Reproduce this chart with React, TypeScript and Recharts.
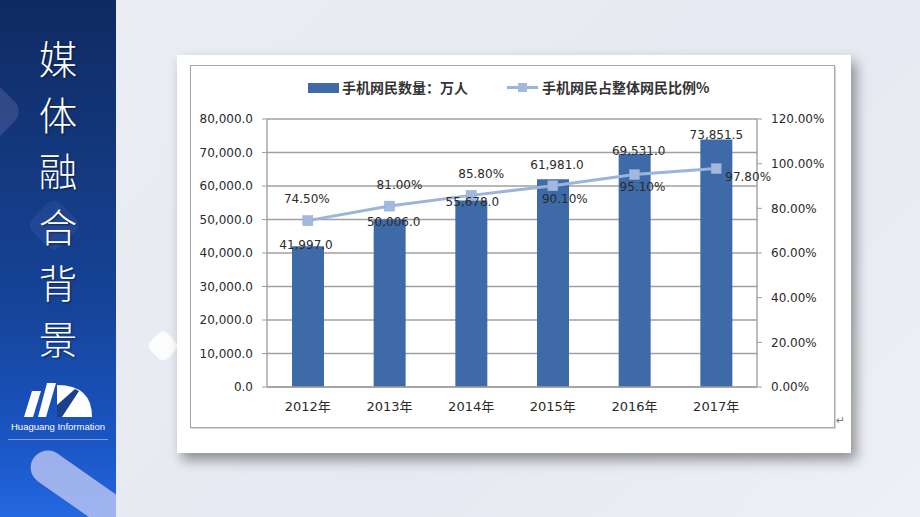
import React from 'react';
import {
  ComposedChart,
  Bar,
  Line,
  XAxis,
  YAxis,
  CartesianGrid,
  Legend,
  LabelList,
} from 'recharts';

const years = ['2012年', '2013年', '2014年', '2015年', '2016年', '2017年'];
const mobileUsers = [41997.0, 50006.0, 55678.0, 61981.0, 69531.0, 73851.5];
const mobileShare = [74.5, 81.0, 85.8, 90.1, 95.1, 97.8];
const leftTicks = [0, 10000, 20000, 30000, 40000, 50000, 60000, 70000, 80000];
const rightTicks = [0, 20, 40, 60, 80, 100, 120];
const seriesNames = ['手机网民数量：万人', '手机网民占整体网民比例%'];
const titleChars = ['媒', '体', '融', '合', '背', '景'];

const data = years.map((y, i) => ({ year: y, users: mobileUsers[i], share: mobileShare[i] }));

// label nudges (style only)
const barLabelNudge = [
  [-2, -1],
  [4, 3],
  [1, 2],
  [4, -14],
  [4, -3],
  [0, -5],
];
const lineLabelNudge = [
  [-1, -22],
  [10, -21],
  [10, -21],
  [12, 13],
  [8, 12],
  [32, 8],
];

const BAR_COLOR = '#3e6ba8';
const LINE_COLOR = '#9cb3da';
const TEXT = '#2a2a2a';
const NUM_FONT = '"DejaVu Sans", "Noto Sans CJK SC", sans-serif';
const CJK_FONT = '"Noto Sans CJK SC", "DejaVu Sans", sans-serif';

const fmtUsers = (v: number) =>
  v.toLocaleString('en-US', { minimumFractionDigits: 1, maximumFractionDigits: 1 });
const fmtPct = (v: number) => `${v.toFixed(2)}%`;

const BarLabel = (props: any) => {
  const { x, y, width, value, index } = props;
  const n = barLabelNudge[index] || [0, 0];
  return (
    <text
      x={Number(x) + Number(width) / 2 + n[0]}
      y={Number(y) + n[1]}
      textAnchor="middle"
      dominantBaseline="central"
      fontSize={12}
      fontFamily={NUM_FONT}
      fill={TEXT}
    >
      {fmtUsers(Number(value))}
    </text>
  );
};

const LineLabel = (props: any) => {
  const { x, y, value, index } = props;
  const n = lineLabelNudge[index] || [0, 0];
  return (
    <text
      x={Number(x) + n[0]}
      y={Number(y) + n[1]}
      textAnchor="middle"
      dominantBaseline="central"
      fontSize={12}
      fontFamily={NUM_FONT}
      fill={TEXT}
    >
      {fmtPct(Number(value))}
    </text>
  );
};

const SquareDot = (props: any) => {
  const { cx, cy } = props;
  if (cx == null || cy == null) return null;
  return <rect x={cx - 5} y={cy - 5} width={10} height={10} fill="#a3b8dd" stroke="#8fa8d4" strokeWidth={0.5} />;
};

const legendText: React.CSSProperties = {
  position: 'absolute',
  top: 0,
  lineHeight: '30px',
  fontSize: 14,
  fontWeight: 700,
  fontFamily: CJK_FONT,
  color: '#333',
  whiteSpace: 'nowrap',
};

const LegendContent = () => (
  <div style={{ position: 'relative', width: 644, height: 30 }}>
    <div style={{ position: 'absolute', left: 118, top: 11, width: 31, height: 10, background: BAR_COLOR }} />
    <div style={{ ...legendText, left: 152 }}>{seriesNames[0]}</div>
    <div style={{ position: 'absolute', left: 317, top: 14, width: 31, height: 3, background: LINE_COLOR }} />
    <div style={{ position: 'absolute', left: 328, top: 11, width: 9, height: 9, background: '#a3b8dd' }} />
    <div style={{ ...legendText, left: 352 }}>{seriesNames[1]}</div>
  </div>
);

const Logo = () => (
  <svg width={116} height={60} style={{ position: 'absolute', left: 0, top: 375 }}>
    <polygon points="24,42 33,42 41,16 32,16" fill="#fff" />
    <polygon points="38,42 46,42 56,8 47,8" fill="#fff" />
    <path d="M57 42 L57 10 Q92 10 92 42 Z" fill="#fff" />
    <polygon points="57,42 57,30 75,14 79,16 62,42" fill="#1b3f8a" />
  </svg>
);

export default function App() {
  return (
    <div
      style={{
        position: 'absolute',
        left: 0,
        top: 0,
        width: 920,
        height: 517,
        overflow: 'hidden',
        background: 'linear-gradient(135deg, #eceef4 0%, #e6e9f1 60%, #eef0f6 100%)',
      }}
    >
      {/* left panel */}
      <div
        style={{
          position: 'absolute',
          left: 0,
          top: 0,
          width: 116,
          height: 517,
          overflow: 'hidden',
          background: 'linear-gradient(180deg, #0f2a62 0%, #143a82 35%, #16449a 60%, #1a55c4 85%, #2467e0 100%)',
        }}
      >
        <div
          style={{
            position: 'absolute',
            left: -42,
            top: 84,
            width: 55,
            height: 55,
            borderRadius: 14,
            transform: 'rotate(45deg)',
            background: 'rgba(150,140,190,0.25)',
          }}
        />
        <div
          style={{
            position: 'absolute',
            left: 34,
            top: 205,
            width: 40,
            height: 40,
            borderRadius: 10,
            transform: 'rotate(45deg)',
            background: 'rgba(120,150,220,0.12)',
          }}
        />
        <div
          style={{
            position: 'absolute',
            left: 22,
            top: 478,
            width: 130,
            height: 34,
            borderRadius: 17,
            transform: 'rotate(35deg)',
            background: 'rgba(200,205,245,0.75)',
          }}
        />
        <div
          style={{
            position: 'absolute',
            left: 0,
            width: 116,
            top: 29,
            lineHeight: '56px',
            textAlign: 'center',
            color: '#fff',
            fontSize: 38.5,
            fontWeight: 300,
            fontFamily: CJK_FONT,
            textShadow: '1px 1px 2px rgba(0,0,0,0.5)',
          }}
        >
          {titleChars.map((c, i) => (
            <React.Fragment key={c}>
              {c}
              {i < titleChars.length - 1 ? <br /> : null}
            </React.Fragment>
          ))}
        </div>
        <Logo />
        <div
          style={{
            position: 'absolute',
            left: 0,
            width: 116,
            top: 421,
            textAlign: 'center',
            color: '#fff',
            fontSize: 9.5,
            fontFamily: '"Liberation Sans", Arial, sans-serif',
            whiteSpace: 'nowrap',
          }}
        >
          Huaguang Information
        </div>
        <div style={{ position: 'absolute', left: 8, top: 439, width: 100, height: 1, background: 'rgba(255,255,255,0.45)' }} />
      </div>

      {/* background diamond */}
      <div
        style={{
          position: 'absolute',
          left: 151,
          top: 334,
          width: 24,
          height: 24,
          borderRadius: 6,
          transform: 'rotate(45deg)',
          background: 'rgba(255,255,255,0.9)',
        }}
      />

      {/* card */}
      <div
        style={{
          position: 'absolute',
          left: 177,
          top: 55,
          width: 674,
          height: 398,
          background: '#fff',
          boxShadow: '5px 7px 12px rgba(0,0,0,0.4)',
        }}
      />
      <div
        style={{
          position: 'absolute',
          left: 190,
          top: 65,
          width: 643,
          height: 361,
          border: '1.5px solid #a6a6a6',
          boxShadow: '1px 1px 1px rgba(0,0,0,0.15)',
        }}
      />
      <div style={{ position: 'absolute', left: 836, top: 414, fontSize: 11, color: '#777', fontFamily: NUM_FONT }}>↵</div>

      <div style={{ position: 'absolute', left: 190, top: 66 }}>
        <ComposedChart
          width={644}
          height={361}
          data={data}
          margin={{ top: 23, right: 0, left: 0, bottom: 0 }}
          barCategoryGap={0}
        >
          <Legend
            verticalAlign="top"
            content={<LegendContent />}
            wrapperStyle={{ top: 6, left: 0, width: 644, height: 30 }}
          />
          <CartesianGrid yAxisId="left" vertical={false} stroke="#a0a0a0" strokeWidth={1.4} />
          <XAxis
            dataKey="year"
            height={40}
            tickLine={false}
            axisLine={{ stroke: '#a0a0a0', strokeWidth: 1.4 }}
            tick={{ fontSize: 13, fill: TEXT, fontFamily: NUM_FONT }}
            tickMargin={9}
            interval={0}
          />
          <YAxis
            yAxisId="left"
            width={77}
            domain={[0, 80000]}
            ticks={leftTicks}
            tickFormatter={fmtUsers}
            axisLine={{ stroke: '#a0a0a0', strokeWidth: 1.4 }}
            tickLine={{ stroke: '#a0a0a0' }}
            tickSize={5}
            tickMargin={9}
            tick={{ fontSize: 12, fill: TEXT, fontFamily: NUM_FONT }}
          />
          <YAxis
            yAxisId="right"
            orientation="right"
            width={77}
            domain={[0, 120]}
            ticks={rightTicks}
            tickFormatter={fmtPct}
            axisLine={{ stroke: '#a0a0a0', strokeWidth: 1.4 }}
            tickLine={{ stroke: '#a0a0a0' }}
            tickSize={5}
            tickMargin={9}
            tick={{ fontSize: 12, fill: TEXT, fontFamily: NUM_FONT }}
          />
          <Bar yAxisId="left" dataKey="users" barSize={32} fill={BAR_COLOR} isAnimationActive={false}>
            <LabelList dataKey="users" content={<BarLabel />} />
          </Bar>
          <Line
            yAxisId="right"
            dataKey="share"
            stroke={LINE_COLOR}
            strokeWidth={3}
            dot={<SquareDot />}
            activeDot={false}
            isAnimationActive={false}
          >
            <LabelList dataKey="share" content={<LineLabel />} />
          </Line>
        </ComposedChart>
      </div>
    </div>
  );
}
